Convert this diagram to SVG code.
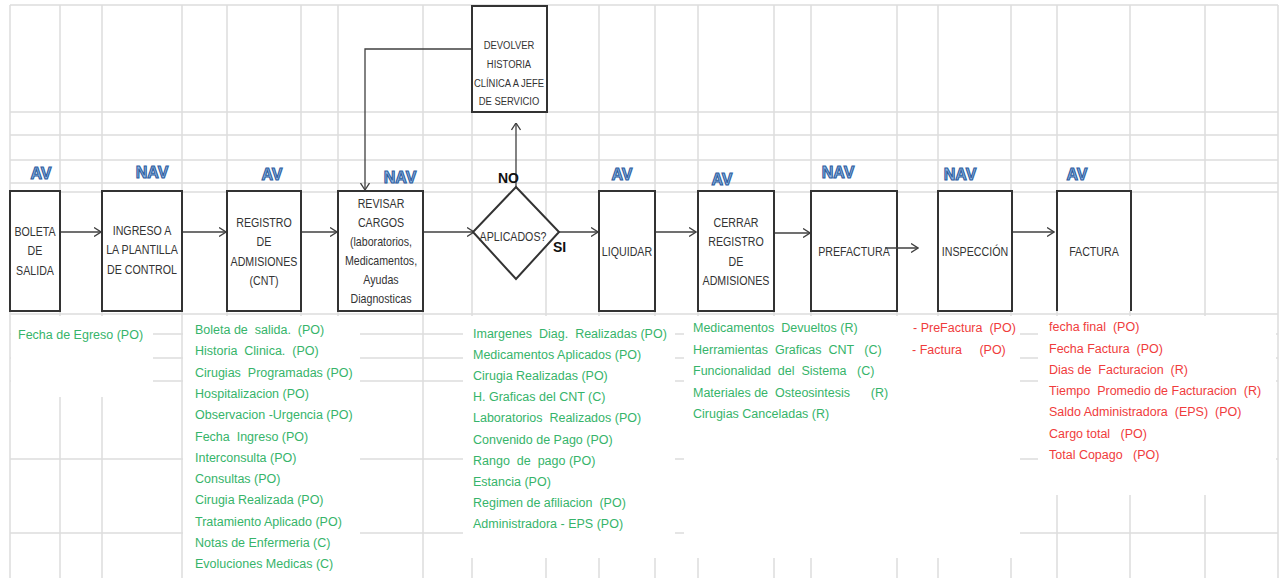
<svg xmlns="http://www.w3.org/2000/svg" width="1284" height="578" viewBox="0 0 1284 578">
  <style>
    .grid line { stroke: #dcdcdc; stroke-width: 1.5; }
    .pad { fill: #ffffff; }
    .box { fill: #ffffff; stroke: #333333; stroke-width: 2; }
    .bt { font-family: "Liberation Sans", Arial, sans-serif; font-size: 13px; fill: #333333; text-anchor: middle; }
    .small { font-family: "Liberation Sans", Arial, sans-serif; font-size: 11.5px; fill: #333333; text-anchor: middle; }
    .tag { font-family: "Liberation Sans", Arial, sans-serif; font-weight: bold; font-size: 16px; fill: #8fb6e4; stroke: #2e5e9f; stroke-width: 1.1; text-anchor: middle; }
    .lbl { font-family: "Liberation Sans", Arial, sans-serif; font-weight: bold; font-size: 14px; fill: #111111; }
    .g { font-family: "Liberation Sans", Arial, sans-serif; font-size: 12.5px; fill: #36b46a; white-space: pre; }
    .r { font-family: "Liberation Sans", Arial, sans-serif; font-size: 12.5px; fill: #f03c3c; white-space: pre; }
    .conn { fill: none; stroke: #404040; stroke-width: 1.3; }
  </style>
  <defs>
    <marker id="arrow" viewBox="0 0 8 10" refX="7.5" refY="5" markerWidth="8" markerHeight="10" markerUnits="userSpaceOnUse" orient="auto">
      <path d="M0.5,0.5 L7.5,5 L0.5,9.5" fill="none" stroke="#404040" stroke-width="1.3"/>
    </marker>
  </defs>

  <rect width="1284" height="578" fill="#ffffff"/>

  <!-- spreadsheet grid -->
  <g class="grid">
    <line x1="10" y1="5" x2="10" y2="578"/>
    <line x1="60" y1="5" x2="60" y2="578"/>
    <line x1="102" y1="5" x2="102" y2="578"/>
    <line x1="182" y1="5" x2="182" y2="578"/>
    <line x1="227" y1="5" x2="227" y2="578"/>
    <line x1="301" y1="5" x2="301" y2="578"/>
    <line x1="338" y1="5" x2="338" y2="578"/>
    <line x1="423" y1="5" x2="423" y2="578"/>
    <line x1="472" y1="5" x2="472" y2="578"/>
    <line x1="546" y1="5" x2="546" y2="578"/>
    <line x1="599" y1="5" x2="599" y2="578"/>
    <line x1="655" y1="5" x2="655" y2="578"/>
    <line x1="698" y1="5" x2="698" y2="578"/>
    <line x1="774" y1="5" x2="774" y2="578"/>
    <line x1="811" y1="5" x2="811" y2="578"/>
    <line x1="897" y1="5" x2="897" y2="578"/>
    <line x1="938" y1="5" x2="938" y2="578"/>
    <line x1="1011" y1="5" x2="1011" y2="578"/>
    <line x1="1057" y1="5" x2="1057" y2="578"/>
    <line x1="1130" y1="5" x2="1130" y2="578"/>
    <line x1="1205" y1="5" x2="1205" y2="578"/>
    <line x1="1278" y1="5" x2="1278" y2="578"/>
    <line x1="10" y1="5" x2="1278" y2="5"/>
    <line x1="10" y1="112" x2="1278" y2="112"/>
    <line x1="10" y1="135" x2="1278" y2="135"/>
    <line x1="10" y1="160" x2="1278" y2="160"/>
    <line x1="10" y1="183" x2="1278" y2="183"/>
    <line x1="10" y1="192" x2="1278" y2="192"/>
    <line x1="10" y1="314" x2="1278" y2="314"/>
    <line x1="10" y1="334" x2="1278" y2="334"/>
    <line x1="10" y1="358" x2="1278" y2="358"/>
    <line x1="10" y1="381" x2="1278" y2="381"/>
    <line x1="10" y1="459" x2="1278" y2="459"/>
    <line x1="10" y1="533" x2="1278" y2="533"/>
  </g>

  <!-- white text panels -->
  <g>
    <rect class="pad" x="11" y="316" width="142" height="81"/>
    <rect class="pad" x="183" y="316" width="177" height="262"/>
    <rect class="pad" x="463" y="316" width="212" height="242"/>
    <rect class="pad" x="684" y="316" width="336" height="242"/>
    <rect class="pad" x="1038" y="316" width="238" height="179"/>
  </g>

  <!-- connectors -->
  <g id="connectors">
    <line class="conn" x1="61" y1="232" x2="101" y2="232" marker-end="url(#arrow)"/>
    <line class="conn" x1="183" y1="232" x2="226" y2="232" marker-end="url(#arrow)"/>
    <line class="conn" x1="302" y1="232" x2="337" y2="232" marker-end="url(#arrow)"/>
    <line class="conn" x1="424" y1="232" x2="474" y2="232" marker-end="url(#arrow)"/>
    <line class="conn" x1="559" y1="232" x2="598" y2="232" marker-end="url(#arrow)"/>
    <line class="conn" x1="656" y1="232" x2="696" y2="232" marker-end="url(#arrow)"/>
    <line class="conn" x1="775" y1="233" x2="810" y2="233" marker-end="url(#arrow)"/>
    <line class="conn" x1="1013" y1="232" x2="1054" y2="232" marker-end="url(#arrow)"/>
    <line class="conn" x1="516" y1="187" x2="516" y2="123" marker-end="url(#arrow)"/>
    <polyline class="conn" points="472,49 365,49 365,190" marker-end="url(#arrow)"/>
  </g>

  <!-- process steps (condensed lettering) -->
  <g id="boleta">
    <rect class="box" x="10" y="191" width="50" height="120"/>
    <g transform="translate(35,0) scale(0.82,1)">
      <text class="bt" x="0" y="236">BOLETA</text>
      <text class="bt" x="0" y="255">DE</text>
      <text class="bt" x="0" y="275">SALIDA</text>
    </g>
  </g>
  <g id="ingreso">
    <rect class="box" x="102" y="191" width="80" height="120"/>
    <g transform="translate(142,0) scale(0.82,1)">
      <text class="bt" x="0" y="235">INGRESO A</text>
      <text class="bt" x="0" y="254">LA PLANTILLA</text>
      <text class="bt" x="0" y="274">DE CONTROL</text>
    </g>
  </g>
  <g id="registro">
    <rect class="box" x="227" y="191" width="74" height="120"/>
    <g transform="translate(264,0) scale(0.82,1)">
      <text class="bt" x="0" y="227">REGISTRO</text>
      <text class="bt" x="0" y="246">DE</text>
      <text class="bt" x="0" y="266">ADMISIONES</text>
      <text class="bt" x="0" y="285">(CNT)</text>
    </g>
  </g>
  <g id="revisar">
    <rect class="box" x="338" y="191" width="85" height="120"/>
    <g transform="translate(381,0) scale(0.82,1)">
      <text class="bt" x="0" y="208">REVISAR</text>
      <text class="bt" x="0" y="227">CARGOS</text>
      <text class="bt" x="0" y="246">(laboratorios,</text>
      <text class="bt" x="0" y="265">Medicamentos,</text>
      <text class="bt" x="0" y="284">Ayudas</text>
      <text class="bt" x="0" y="303">Diagnosticas</text>
    </g>
  </g>
  <g id="aplicados">
    <polygon class="box" points="516,187 559,232 516,279 473,232"/>
    <g transform="translate(513,0) scale(0.82,1)">
      <text class="bt" x="0" y="241">APLICADOS?</text>
    </g>
  </g>
  <g id="devolver">
    <rect class="box" x="472" y="6" width="75" height="106"/>
    <g transform="translate(509,0) scale(0.82,1)">
      <text class="small" x="0" y="49">DEVOLVER</text>
      <text class="small" x="0" y="68">HISTORIA</text>
      <text class="small" x="0" y="87">CLÍNICA A JEFE</text>
      <text class="small" x="0" y="105">DE SERVICIO</text>
    </g>
  </g>
  <g id="liquidar">
    <rect class="box" x="599" y="191" width="56" height="120"/>
    <g transform="translate(627,0) scale(0.82,1)">
      <text class="bt" x="0" y="256">LIQUIDAR</text>
    </g>
  </g>
  <g id="cerrar">
    <rect class="box" x="698" y="191" width="76" height="120"/>
    <g transform="translate(736,0) scale(0.82,1)">
      <text class="bt" x="0" y="227">CERRAR</text>
      <text class="bt" x="0" y="246">REGISTRO</text>
      <text class="bt" x="0" y="266">DE</text>
      <text class="bt" x="0" y="285">ADMISIONES</text>
    </g>
  </g>
  <g id="prefactura">
    <rect class="box" x="811" y="191" width="86" height="120"/>
    <g transform="translate(854,0) scale(0.82,1)">
      <text class="bt" x="0" y="256">PREFACTURA</text>
    </g>
  </g>
  <g id="inspeccion">
    <rect class="box" x="938" y="191" width="74" height="120"/>
    <g transform="translate(975,0) scale(0.82,1)">
      <text class="bt" x="0" y="256">INSPECCIÓN</text>
    </g>
  </g>
  <g id="factura">
    <path class="box" d="M1057,311 V191 H1131 V311" fill="none"/>
    <g transform="translate(1094,0) scale(0.82,1)">
      <text class="bt" x="0" y="256">FACTURA</text>
    </g>
  </g>

  <!-- arrow out of PREFACTURA runs over its label -->
  <line class="conn" x1="885" y1="248" x2="918" y2="248" marker-end="url(#arrow)"/>

  <!-- value tags -->
  <g id="tags">
    <text class="tag" x="41" y="179">AV</text>
    <text class="tag" x="152" y="178">NAV</text>
    <text class="tag" x="272" y="180">AV</text>
    <text class="tag" x="400" y="183">NAV</text>
    <text class="tag" x="622" y="180">AV</text>
    <text class="tag" x="722" y="185">AV</text>
    <text class="tag" x="838" y="178">NAV</text>
    <text class="tag" x="960" y="180">NAV</text>
    <text class="tag" x="1077" y="180">AV</text>
  </g>
  <text class="lbl" x="498" y="183">NO</text>
  <text class="lbl" x="553" y="252" font-size="13">SI</text>

  <!-- data lists -->
  <g id="list-boleta">
    <text class="g" x="18" y="339">Fecha de Egreso (PO)</text>
  </g>
  <g id="list-registro">
    <text class="g" x="195" y="334">Boleta de  salida.  (PO)</text>
    <text class="g" x="195" y="355">Historia  Clinica.  (PO)</text>
    <text class="g" x="195" y="377">Cirugias  Programadas (PO)</text>
    <text class="g" x="195" y="398">Hospitalizacion (PO)</text>
    <text class="g" x="195" y="419">Observacion -Urgencia (PO)</text>
    <text class="g" x="195" y="441">Fecha  Ingreso (PO)</text>
    <text class="g" x="195" y="462">Interconsulta (PO)</text>
    <text class="g" x="195" y="483">Consultas (PO)</text>
    <text class="g" x="195" y="504">Cirugia Realizada (PO)</text>
    <text class="g" x="195" y="526">Tratamiento Aplicado (PO)</text>
    <text class="g" x="195" y="547">Notas de Enfermeria (C)</text>
    <text class="g" x="195" y="568">Evoluciones Medicas (C)</text>
  </g>
  <g id="list-revisar">
    <text class="g" x="473" y="338">Imargenes  Diag.  Realizadas (PO)</text>
    <text class="g" x="473" y="359">Medicamentos Aplicados (PO)</text>
    <text class="g" x="473" y="380">Cirugia Realizadas (PO)</text>
    <text class="g" x="473" y="401">H. Graficas del CNT (C)</text>
    <text class="g" x="473" y="422">Laboratorios  Realizados (PO)</text>
    <text class="g" x="473" y="444">Convenido de Pago (PO)</text>
    <text class="g" x="473" y="465">Rango  de  pago (PO)</text>
    <text class="g" x="473" y="486">Estancia (PO)</text>
    <text class="g" x="473" y="507">Regimen de afiliacion  (PO)</text>
    <text class="g" x="473" y="528">Administradora - EPS (PO)</text>
  </g>
  <g id="list-cerrar">
    <text class="g" x="693" y="332">Medicamentos  Devueltos (R)</text>
    <text class="g" x="693" y="354">Herramientas  Graficas  CNT   (C)</text>
    <text class="g" x="693" y="375">Funcionalidad  del  Sistema   (C)</text>
    <text class="g" x="693" y="397">Materiales de  Osteosintesis      (R)</text>
    <text class="g" x="693" y="418">Cirugias Canceladas (R)</text>
  </g>
  <g id="list-inspeccion">
    <text class="r" x="913" y="332">- PreFactura  (PO)</text>
    <text class="r" x="912" y="354">- Factura     (PO)</text>
  </g>
  <g id="list-factura">
    <text class="r" x="1049" y="331">fecha final  (PO)</text>
    <text class="r" x="1049" y="353">Fecha Factura  (PO)</text>
    <text class="r" x="1049" y="374">Dias de  Facturacion  (R)</text>
    <text class="r" x="1049" y="395">Tiempo  Promedio de Facturacion  (R)</text>
    <text class="r" x="1049" y="416">Saldo Administradora  (EPS)  (PO)</text>
    <text class="r" x="1049" y="438">Cargo total   (PO)</text>
    <text class="r" x="1049" y="459">Total Copago   (PO)</text>
  </g>
</svg>
